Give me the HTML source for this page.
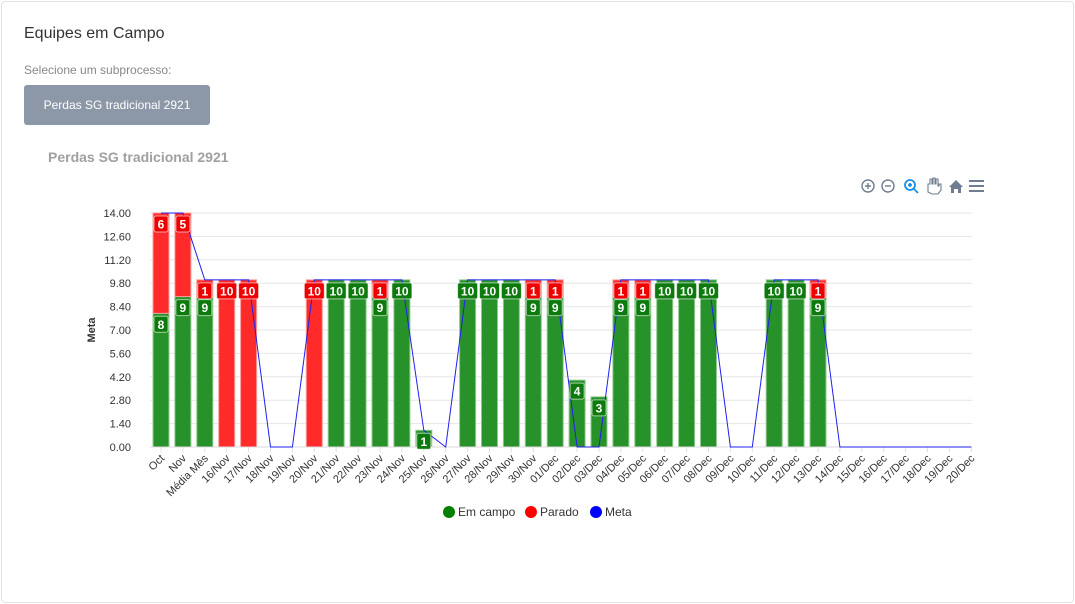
<!DOCTYPE html>
<html><head><meta charset="utf-8">
<style>
body{margin:0;background:#fff;font-family:"Liberation Sans",sans-serif;}
.card{position:absolute;left:1px;top:1px;width:1071px;height:600px;border:1px solid #e3e3e3;border-radius:4px;}
.h{position:absolute;left:24px;top:25px;font-size:16px;color:#333;}
.s{position:absolute;left:24px;top:63px;font-size:12px;color:#888;}
.b{position:absolute;left:24px;top:85px;width:186px;height:40px;background:#8c97a8;border-radius:3px;color:#fff;font-size:12px;line-height:40px;text-align:center;}
.t{position:absolute;left:48px;top:149px;font-size:14px;font-weight:bold;color:#a0a0a0;}
svg{position:absolute;left:0;top:0;}
</style></head><body>
<div class="card"></div>
<div class="h">Equipes em Campo</div>
<div class="s">Selecione um subprocesso:</div>
<div class="b">Perdas SG tradicional 2921</div>
<div class="t">Perdas SG tradicional 2921</div>
<svg id="c" width="1075" height="604" font-family="Liberation Sans, sans-serif"></svg>
<script>
var cats=["Oct","Nov","Média Mês"];
for(var d=16;d<=30;d++)cats.push(d+"/Nov");
for(var d=1;d<=20;d++)cats.push((d<10?"0":"")+d+"/Dec");
var E=[8,9,9,0,0,0,0,0,10,10,9,10,1,0,10,10,10,9,9,4,3,9,9,10,10,10,0,0,10,10,9,0,0,0,0,0,0,0];
var P=[6,5,1,10,10,0,0,10,0,0,1,0,0,0,0,0,0,1,1,0,0,1,1,0,0,0,0,0,0,0,1,0,0,0,0,0,0,0];
var M=[14,14,10,10,10,0,0,10,10,10,10,10,1,0,10,10,10,10,10,0,0,10,10,10,10,10,0,0,10,10,10,0,0,0,0,0,0,0];
var x0=150,x1=972,y0=447,k=234/14,w=21.9,c0=161,s="";
for(var i=0;i<=10;i++){var y=y0-i*1.4*k;s+='<line x1="'+x0+'" x2="'+x1+'" y1="'+y+'" y2="'+y+'" stroke="#e6e6e6"/>';
s+='<text x="131" y="'+(y+4)+'" font-size="11" fill="#333" text-anchor="end">'+(i*1.4).toFixed(2)+'</text>';}
s+='<text transform="translate(95,330) rotate(-90)" font-size="11" font-weight="bold" fill="#333" text-anchor="middle">Meta</text>';
var lab="";
for(var i=0;i<38;i++){var cx=c0+w*i;
s+='<line x1="'+cx+'" x2="'+cx+'" y1="447" y2="452" stroke="#e0e0e0"/>';
var ye=y0-E[i]*k,yp=ye-P[i]*k;
if(E[i])s+='<rect x="'+(cx-8)+'" y="'+ye+'" width="16" height="'+(E[i]*k)+'" fill="#28922a" stroke="#8fc98f" stroke-width="1"/>';
if(P[i])s+='<rect x="'+(cx-8)+'" y="'+yp+'" width="16" height="'+(P[i]*k)+'" fill="#ff2a2a" stroke="#ff9a9a" stroke-width="1"/>';
function L(v,top,col){var tw=v>=10?20:14;lab+='<rect x="'+(cx-tw/2)+'" y="'+(top+3)+'" width="'+tw+'" height="16" rx="2" fill="'+col+'" stroke="#fff" stroke-width="1" stroke-opacity=".6"/><text x="'+cx+'" y="'+(top+15.5)+'" font-size="12" font-weight="bold" fill="#fff" text-anchor="middle">'+v+'</text>';}
if(E[i])L(E[i],ye,"#0c7a0c");if(P[i])L(P[i],yp,"#ee0000");
s+='<text transform="translate('+(cx+4)+',459) rotate(-45)" font-size="11" fill="#333" text-anchor="end">'+cats[i]+'</text>';}
s+='<line x1="'+x0+'" x2="'+x1+'" y1="447" y2="447" stroke="#d8d8d8"/>';
var pts=[];for(var i=0;i<38;i++)pts.push((c0+w*i)+","+(y0-M[i]*k));
s+='<polyline points="'+pts.join(" ")+'" fill="none" stroke="#2020ee" stroke-width="1"/>';
s+=lab;
s+='<circle cx="449" cy="512" r="6" fill="#008000"/><text x="458" y="516" font-size="12" fill="#333">Em campo</text>';
s+='<circle cx="531" cy="512" r="6" fill="#ff0000"/><text x="540" y="516" font-size="12" fill="#333">Parado</text>';
s+='<circle cx="596" cy="512" r="6" fill="#0000ff"/><text x="605" y="516" font-size="12" fill="#333">Meta</text>';
s+='<g stroke="#6e7d90" fill="none" stroke-width="1.4"><circle cx="868" cy="186" r="6"/><path d="M865 186h6M868 183v6"/><circle cx="888" cy="186" r="6"/><path d="M885 186h6"/></g>';
s+='<g stroke="#1a8fe8" fill="none" stroke-width="1.8"><circle cx="910" cy="185" r="5"/><path d="M914 189l4 4M908 185h4M910 183v4"/></g>';
s+='<path d="M928 192v-8h2v-5h2v5h1v-6h2v6h1v-5h2v7h1v-2h2v6l-3 4h-6z" fill="none" stroke="#6e7d90" stroke-width="1.1"/>';
s+='<path d="M949 187l7-7 7 7h-2v6h-3v-4h-4v4h-3v-6z" fill="#6e7d90"/>';
s+='<path d="M969 181h15M969 186h15M969 191h15" stroke="#6e7d90" stroke-width="2"/>';
document.getElementById("c").innerHTML=s;
</script>
</body></html>
